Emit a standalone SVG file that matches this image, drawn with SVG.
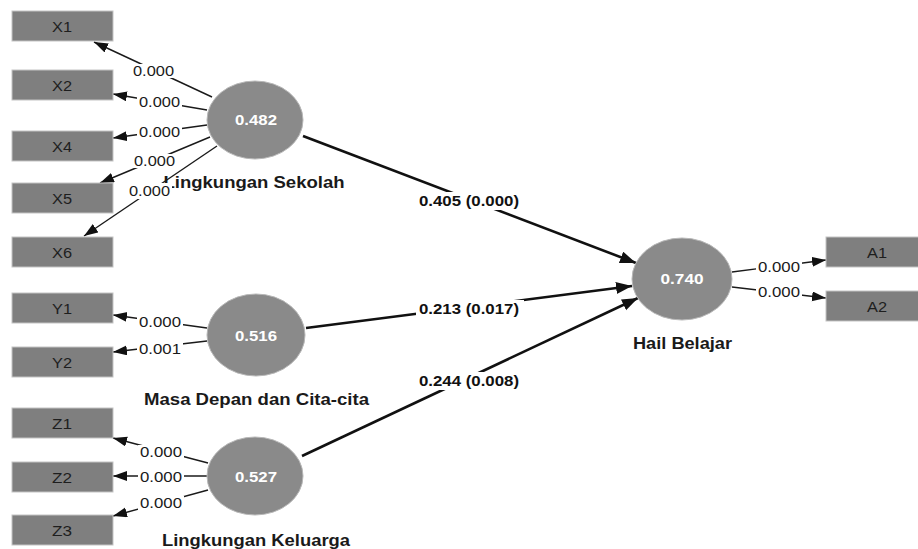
<svg xmlns="http://www.w3.org/2000/svg" width="918" height="549" viewBox="0 0 918 549">
<defs>
<style>
text{font-family:"Liberation Sans",Arial,sans-serif;}
.box{fill:#7f7f7f;stroke:#c4c4c4;stroke-width:1;}
.bt{font-size:14px;fill:#1e1e1e;text-anchor:middle;}
.lv{fill:#8a8a8a;stroke:#b8b8b8;stroke-width:1;}
.lt{font-size:14px;font-weight:bold;fill:#ffffff;text-anchor:middle;}
.nm{font-size:16px;font-weight:bold;fill:#1a1a1a;text-anchor:middle;}
.thin{stroke:#1a1a1a;stroke-width:1.4;fill:none;marker-end:url(#ah);}
.thick{stroke:#111;stroke-width:2.6;fill:none;marker-end:url(#ahb);}
.bg{fill:#ffffff;}
.el{font-size:14px;fill:#1a1a1a;}
.pl{font-size:15px;font-weight:bold;fill:#111;text-anchor:middle;}
</style>
<marker id="ah" markerUnits="userSpaceOnUse" markerWidth="15" markerHeight="11" refX="14" refY="5" orient="auto"><path d="M0,0 L14,5 L0,10 z" fill="#111"/></marker>
<marker id="ahb" markerUnits="userSpaceOnUse" markerWidth="17" markerHeight="13" refX="16" refY="6" orient="auto"><path d="M0,0 L16,6 L0,12 z" fill="#111"/></marker>
</defs>
<rect width="918" height="549" fill="#ffffff"/>
<g id="connectors">
<line class="thin" x1="212" y1="97" x2="94" y2="42"/>
<line class="thin" x1="207" y1="110" x2="113" y2="94"/>
<line class="thin" x1="207" y1="125" x2="113" y2="138"/>
<line class="thin" x1="210" y1="137" x2="100" y2="183"/>
<line class="thin" x1="217" y1="146" x2="84" y2="236"/>
<line class="thin" x1="207" y1="328" x2="113" y2="315"/>
<line class="thin" x1="207" y1="341" x2="113" y2="352"/>
<line class="thin" x1="208" y1="463" x2="113" y2="438"/>
<line class="thin" x1="207" y1="476" x2="113" y2="476"/>
<line class="thin" x1="208" y1="490" x2="113" y2="516"/>
<line class="thin" x1="732" y1="272" x2="826" y2="260"/>
<line class="thin" x1="732" y1="287" x2="826" y2="298"/>
<line class="thick" x1="303" y1="136" x2="636" y2="263"/>
<line class="thick" x1="306" y1="328" x2="632" y2="286"/>
<line class="thick" x1="302" y1="456" x2="638" y2="298"/>
</g>
<g id="X1"><rect class="box" x="12" y="11" width="101" height="30"/><text class="bt" x="62" y="31.5" textLength="20" lengthAdjust="spacingAndGlyphs">X1</text></g>
<g id="X2"><rect class="box" x="12" y="70" width="101" height="30"/><text class="bt" x="62" y="90.5" textLength="20" lengthAdjust="spacingAndGlyphs">X2</text></g>
<g id="X4"><rect class="box" x="12" y="131" width="101" height="30"/><text class="bt" x="62" y="151.5" textLength="20" lengthAdjust="spacingAndGlyphs">X4</text></g>
<g id="X5"><rect class="box" x="12" y="183" width="101" height="30"/><text class="bt" x="62" y="203.5" textLength="20" lengthAdjust="spacingAndGlyphs">X5</text></g>
<g id="X6"><rect class="box" x="12" y="237" width="101" height="30"/><text class="bt" x="62" y="257.5" textLength="20" lengthAdjust="spacingAndGlyphs">X6</text></g>
<g id="Y1"><rect class="box" x="12" y="293" width="101" height="30"/><text class="bt" x="62" y="313.5" textLength="20" lengthAdjust="spacingAndGlyphs">Y1</text></g>
<g id="Y2"><rect class="box" x="12" y="347" width="101" height="30"/><text class="bt" x="62" y="367.5" textLength="20" lengthAdjust="spacingAndGlyphs">Y2</text></g>
<g id="Z1"><rect class="box" x="12" y="408" width="101" height="30"/><text class="bt" x="62" y="428.5" textLength="20" lengthAdjust="spacingAndGlyphs">Z1</text></g>
<g id="Z2"><rect class="box" x="12" y="462" width="101" height="30"/><text class="bt" x="62" y="482.5" textLength="20" lengthAdjust="spacingAndGlyphs">Z2</text></g>
<g id="Z3"><rect class="box" x="12" y="515" width="101" height="30"/><text class="bt" x="62" y="535.5" textLength="20" lengthAdjust="spacingAndGlyphs">Z3</text></g>
<g id="A1"><rect class="box" x="826" y="237" width="101" height="30"/><text class="bt" x="877" y="257.5" textLength="20" lengthAdjust="spacingAndGlyphs">A1</text></g>
<g id="A2"><rect class="box" x="826" y="291" width="101" height="30"/><text class="bt" x="877" y="311.5" textLength="20" lengthAdjust="spacingAndGlyphs">A2</text></g>
<g id="LingkunganSekolah"><ellipse class="lv" cx="255" cy="120" rx="48" ry="39"/><text class="lt" x="256" y="124.5" textLength="42" lengthAdjust="spacingAndGlyphs">0.482</text><text class="nm" x="254" y="187.5" textLength="181" lengthAdjust="spacingAndGlyphs">Lingkungan Sekolah</text></g>
<g id="MasaDepan"><ellipse class="lv" cx="256" cy="335" rx="49" ry="41"/><text class="lt" x="256" y="341" textLength="42" lengthAdjust="spacingAndGlyphs">0.516</text><text class="nm" x="256.5" y="405" textLength="225" lengthAdjust="spacingAndGlyphs">Masa Depan dan Cita-cita</text></g>
<g id="LingkunganKeluarga"><ellipse class="lv" cx="255" cy="476" rx="48" ry="39"/><text class="lt" x="256" y="482" textLength="42" lengthAdjust="spacingAndGlyphs">0.527</text><text class="nm" x="256" y="545.5" textLength="188" lengthAdjust="spacingAndGlyphs">Lingkungan Keluarga</text></g>
<g id="HailBelajar"><ellipse class="lv" cx="682" cy="279" rx="50" ry="41"/><text class="lt" x="682" y="284" textLength="43" lengthAdjust="spacingAndGlyphs">0.740</text><text class="nm" x="682.5" y="349" textLength="99" lengthAdjust="spacingAndGlyphs">Hail Belajar</text></g>
<g id="connector-labels">
<rect class="bg" x="131" y="64" width="45" height="14"/><text class="el" x="133" y="76" textLength="41" lengthAdjust="spacingAndGlyphs">0.000</text>
<rect class="bg" x="137" y="95" width="45" height="14"/><text class="el" x="139" y="107" textLength="41" lengthAdjust="spacingAndGlyphs">0.000</text>
<rect class="bg" x="137" y="125" width="45" height="14"/><text class="el" x="139" y="137" textLength="41" lengthAdjust="spacingAndGlyphs">0.000</text>
<rect class="bg" x="132" y="154" width="45" height="14"/><text class="el" x="134" y="166" textLength="41" lengthAdjust="spacingAndGlyphs">0.000</text>
<rect class="bg" x="127" y="183" width="45" height="16"/><text class="el" x="129" y="196" textLength="41" lengthAdjust="spacingAndGlyphs">0.000</text>
<rect class="bg" x="137" y="315" width="46" height="14"/><text class="el" x="139" y="327" textLength="42" lengthAdjust="spacingAndGlyphs">0.000</text>
<rect class="bg" x="137" y="342" width="46" height="14"/><text class="el" x="139" y="354" textLength="42" lengthAdjust="spacingAndGlyphs">0.001</text>
<rect class="bg" x="138" y="445" width="46" height="14"/><text class="el" x="140" y="457" textLength="42" lengthAdjust="spacingAndGlyphs">0.000</text>
<rect class="bg" x="138" y="470" width="46" height="14"/><text class="el" x="140" y="482" textLength="42" lengthAdjust="spacingAndGlyphs">0.000</text>
<rect class="bg" x="138" y="496" width="46" height="14"/><text class="el" x="140" y="508" textLength="42" lengthAdjust="spacingAndGlyphs">0.000</text>
<rect class="bg" x="756" y="260" width="46" height="14"/><text class="el" x="758" y="272" textLength="42" lengthAdjust="spacingAndGlyphs">0.000</text>
<rect class="bg" x="756" y="285" width="46" height="14"/><text class="el" x="758" y="297" textLength="42" lengthAdjust="spacingAndGlyphs">0.000</text>
<rect class="bg" x="416" y="192" width="108" height="18"/><text class="pl" x="469" y="205.5" textLength="100" lengthAdjust="spacingAndGlyphs">0.405 (0.000)</text>
<rect class="bg" x="416" y="300" width="108" height="18"/><text class="pl" x="469" y="313.5" textLength="100" lengthAdjust="spacingAndGlyphs">0.213 (0.017)</text>
<rect class="bg" x="416" y="372" width="108" height="18"/><text class="pl" x="469" y="385.5" textLength="100" lengthAdjust="spacingAndGlyphs">0.244 (0.008)</text>
</g>
</svg>
